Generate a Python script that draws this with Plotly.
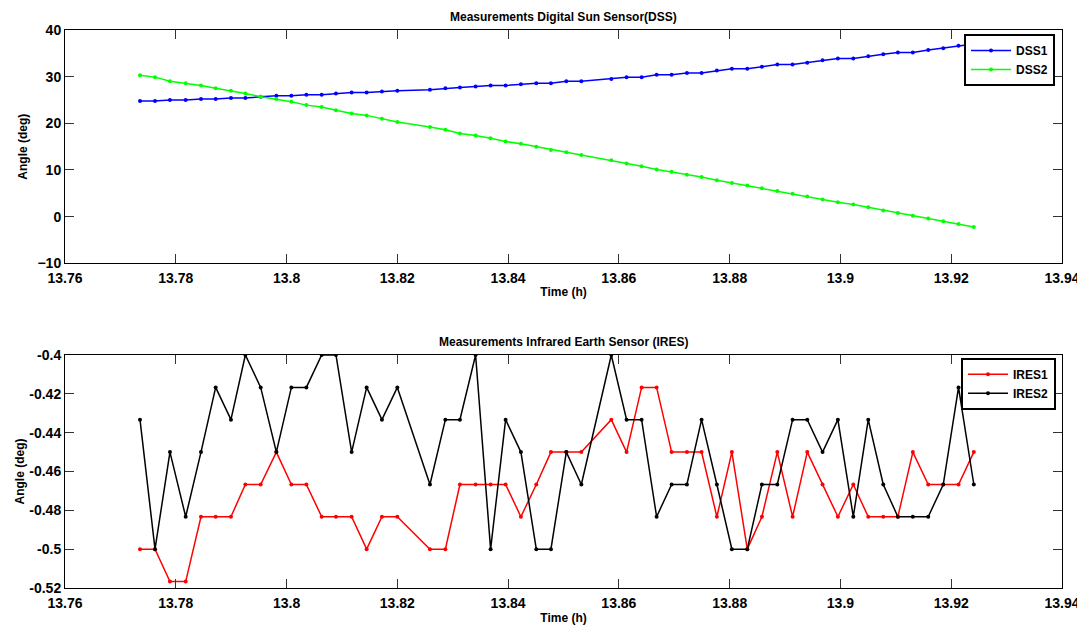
import plotly.graph_objects as go

# ---------------- data ----------------
time_h = [13.77354, 13.77625, 13.77895, 13.78179, 13.78455, 13.78720, 13.78996, 13.79256,
          13.79533, 13.79816, 13.80087, 13.80358, 13.80634, 13.80892, 13.81175, 13.81446,
          13.81722, 13.82000, 13.82589, 13.82867, 13.83130, 13.83413, 13.83684, 13.83955,
          13.84231, 13.84509, 13.84773, 13.85051, 13.85322, 13.85863, 13.86139, 13.86410,
          13.86681, 13.86952, 13.87228, 13.87493, 13.87769, 13.88040, 13.88318, 13.88582,
          13.88860, 13.89136, 13.89401, 13.89677, 13.89954, 13.90232, 13.90502, 13.90773,
          13.91037, 13.91307, 13.91585, 13.91856, 13.92132, 13.92408]

dss1 = [24.8, 24.8, 25.0, 25.0, 25.2, 25.2, 25.4, 25.4, 25.7, 25.9, 25.9, 26.1, 26.1, 26.4,
        26.6, 26.6, 26.8, 27.0, 27.2, 27.5, 27.7, 27.9, 28.1, 28.1, 28.4, 28.6, 28.6, 29.0,
        29.0, 29.5, 29.9, 29.9, 30.4, 30.4, 30.8, 30.8, 31.3, 31.7, 31.7, 32.1, 32.6, 32.6,
        33.0, 33.5, 33.9, 33.9, 34.4, 34.8, 35.2, 35.2, 35.7, 36.1, 36.6, 37.0]

dss2 = [30.3, 29.9, 29.0, 28.6, 28.1, 27.5, 27.0, 26.4, 25.7, 25.2, 24.6, 23.9, 23.5, 22.8,
        22.1, 21.7, 21.0, 20.3, 19.2, 18.6, 17.8, 17.4, 16.8, 16.1, 15.6, 15.0, 14.3, 13.8,
        13.2, 12.1, 11.4, 10.8, 10.1, 9.6, 9.0, 8.5, 7.8, 7.2, 6.7, 6.1, 5.5, 4.9,
        4.3, 3.7, 3.1, 2.6, 2.0, 1.3, 0.8, 0.2, -0.4, -1.0, -1.6, -2.2]

ires1 = [-0.5, -0.5, -0.5167, -0.5167, -0.4833, -0.4833, -0.4833, -0.4667, -0.4667, -0.45,
         -0.4667, -0.4667, -0.4833, -0.4833, -0.4833, -0.5, -0.4833, -0.4833, -0.5, -0.5,
         -0.4667, -0.4667, -0.4667, -0.4667, -0.4833, -0.4667, -0.45, -0.45, -0.45, -0.4333,
         -0.45, -0.4167, -0.4167, -0.45, -0.45, -0.45, -0.4833, -0.45, -0.5, -0.4833,
         -0.45, -0.4833, -0.45, -0.4667, -0.4833, -0.4667, -0.4833, -0.4833, -0.4833, -0.45,
         -0.4667, -0.4667, -0.4667, -0.45]

ires2 = [-0.4333, -0.5, -0.45, -0.4833, -0.45, -0.4167, -0.4333, -0.4, -0.4167, -0.45,
         -0.4167, -0.4167, -0.4, -0.4, -0.45, -0.4167, -0.4333, -0.4167, -0.4667, -0.4333,
         -0.4333, -0.4, -0.5, -0.4333, -0.45, -0.5, -0.5, -0.45, -0.4667, -0.4,
         -0.4333, -0.4333, -0.4833, -0.4667, -0.4667, -0.4333, -0.4667, -0.5, -0.5, -0.4667,
         -0.4667, -0.4333, -0.4333, -0.45, -0.4333, -0.4833, -0.4333, -0.4667, -0.4833, -0.4833,
         -0.4833, -0.4667, -0.4167, -0.4667]

x_ticks = [13.76, 13.78, 13.80, 13.82, 13.84, 13.86, 13.88, 13.90, 13.92, 13.94]
x_ticklabels = ["13.76", "13.78", "13.8", "13.82", "13.84", "13.86", "13.88", "13.9", "13.92", "13.94"]
y1_ticks = [-10, 0, 10, 20, 30, 40]
y2_ticks = [-0.52, -0.50, -0.48, -0.46, -0.44, -0.42, -0.40]
y2_ticklabels = ["-0.52", "-0.5", "-0.48", "-0.46", "-0.44", "-0.42", "-0.4"]

title_top = "Measurements Digital Sun Sensor(DSS)"
title_bottom = "Measurements Infrared Earth Sensor (IRES)"

# ---------------- figure ----------------
FONT = "Liberation Sans, Arial, sans-serif"

def trace(x, y, name, color, xa, ya, legend):
    return go.Scatter(x=x, y=y, name=name, mode="lines+markers",
                      line=dict(color=color, width=1.5),
                      marker=dict(color=color, size=4),
                      xaxis=xa, yaxis=ya, legend=legend)

fig = go.Figure()
fig.add_trace(trace(time_h, dss1, "DSS1", "#0000ff", "x", "y", "legend"))
fig.add_trace(trace(time_h, dss2, "DSS2", "#00ff00", "x", "y", "legend"))
fig.add_trace(trace(time_h, ires1, "IRES1", "#ff0000", "x2", "y2", "legend2"))
fig.add_trace(trace(time_h, ires2, "IRES2", "#000000", "x2", "y2", "legend2"))

tickfont = dict(family=FONT, size=14, color="black", weight="bold")
titlefont = dict(family=FONT, size=12, color="black", weight="bold")

axis_common = dict(showline=True, linecolor="black", linewidth=1, mirror="allticks",
                   ticks="inside", ticklen=9, tickwidth=1, tickcolor="#333333",
                   showgrid=False, zeroline=False, tickfont=tickfont, automargin=False)

top_dom = [0.5819, 1.0]
bot_dom = [0.0, 0.4176]

legend_font = dict(family=FONT, size=12, color="black", weight="bold")

# page body has an 8px margin, so the figure is offset by 8px inside the window
fig.update_layout(
    width=1077, height=620,
    margin=dict(l=57, r=23, t=22, b=40),
    paper_bgcolor="white", plot_bgcolor="white",
    showlegend=True,
    xaxis=dict(domain=[0, 1], anchor="y", range=[13.76, 13.94], tickvals=x_ticks,
               ticktext=x_ticklabels, ticklabelstandoff=2, ticklabeloverflow="allow",
               title=dict(text="Time (h)", font=titlefont, standoff=2),
               **axis_common),
    yaxis=dict(domain=top_dom, anchor="x", range=[-10, 40], tickvals=y1_ticks,
               ticklabelstandoff=0,
               title=dict(text="Angle (deg)", font=titlefont, standoff=7),
               **axis_common),
    xaxis2=dict(domain=[0, 1], anchor="y2", range=[13.76, 13.94], tickvals=x_ticks,
                ticktext=x_ticklabels, ticklabelstandoff=2, ticklabeloverflow="allow",
                title=dict(text="Time (h)", font=titlefont, standoff=3),
                **axis_common),
    yaxis2=dict(domain=bot_dom, anchor="x2", range=[-0.52, -0.40], tickvals=y2_ticks,
                ticktext=y2_ticklabels, ticklabelstandoff=0,
                title=dict(text="Angle (deg)", font=titlefont, standoff=2),
                **axis_common),
    legend=dict(x=0.993, y=0.993, xanchor="right", yanchor="top",
                bgcolor="white", bordercolor="black", borderwidth=2,
                font=legend_font, tracegroupgap=0, itemwidth=40),
    legend2=dict(x=0.994, y=bot_dom[1] - 0.005, xanchor="right", yanchor="top",
                 bgcolor="white", bordercolor="black", borderwidth=2,
                 font=legend_font, tracegroupgap=0, itemwidth=40),
    annotations=[
        dict(text=title_top, xref="paper", yref="paper", x=0.5, y=1.0, yanchor="bottom",
             yshift=4, showarrow=False, font=titlefont),
        dict(text=title_bottom, xref="paper", yref="paper", x=0.5, y=bot_dom[1], yanchor="bottom",
             yshift=4, showarrow=False, font=titlefont),
    ],
)

fig.write_html("out.html")
